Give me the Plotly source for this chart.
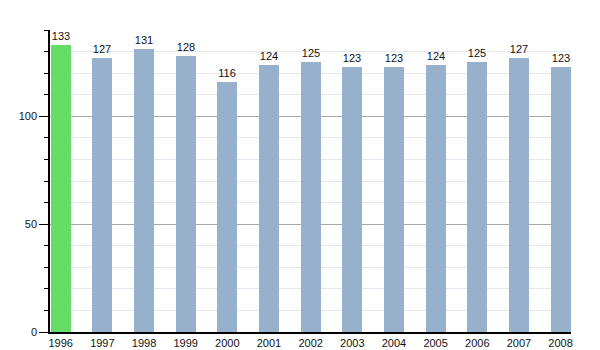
import plotly.graph_objects as go

years = ["1996", "1997", "1998", "1999", "2000", "2001", "2002",
         "2003", "2004", "2005", "2006", "2007", "2008"]
values = [133, 127, 131, 128, 116, 124, 125, 123, 123, 124, 125, 127, 123]
highlight_year = "1996"

positions = list(range(len(years)))
colors = ["#66dd66" if y == highlight_year else "#97b0cc" for y in years]

fig = go.Figure(
    go.Bar(
        x=positions,
        y=values,
        width=0.48,
        marker=dict(color=colors, line=dict(width=0)),
        text=[str(v) for v in values],
        textposition="outside",
        textfont=dict(family="Liberation Sans, Arial, sans-serif", size=11, color="#111"),
        cliponaxis=False,
    )
)

fig.update_layout(
    template="none",
    width=600,
    height=350,
    margin=dict(l=50, r=29, t=30, b=18, autoexpand=False),
    paper_bgcolor="white",
    plot_bgcolor="white",
    showlegend=False,
    bargap=0,
    font=dict(family="Liberation Sans, Arial, sans-serif", size=11, color="#111"),
    xaxis=dict(
        range=[-0.257, 12.25],
        tickmode="array",
        tickvals=positions,
        ticktext=years,
        showgrid=False,
        zeroline=False,
        showline=True,
        linecolor="black",
        linewidth=1.5,
        ticks="",
        automargin=False,
        tickfont=dict(size=11, color="#111"),
    ),
    yaxis=dict(
        range=[0, 140],
        dtick=50,
        tick0=0,
        showgrid=True,
        gridcolor="#a8a8a8",
        gridwidth=1,
        zeroline=False,
        showline=True,
        linecolor="black",
        linewidth=1.5,
        ticks="outside",
        ticklen=9,
        tickcolor="black",
        automargin=False,
        tickfont=dict(size=11, color="#111"),
        minor=dict(
            dtick=10,
            showgrid=True,
            gridcolor="#e4e8ee",
            gridwidth=1,
            ticks="outside",
            ticklen=4,
            tickcolor="black",
        ),
    ),
)

fig.write_html("out.html")
